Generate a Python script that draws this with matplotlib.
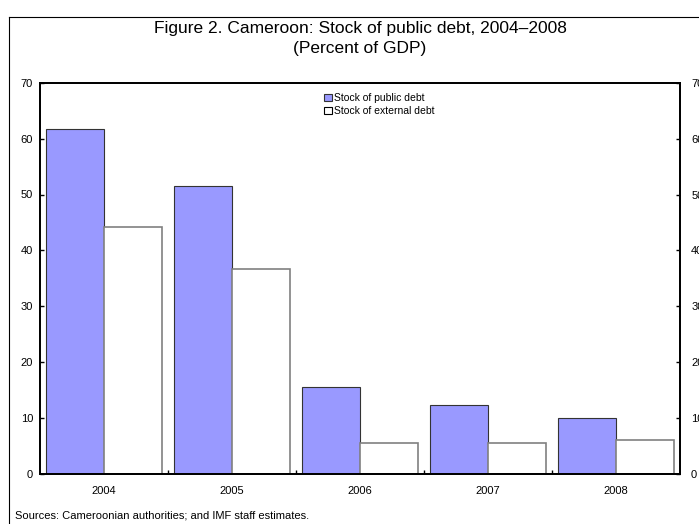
import matplotlib
matplotlib.use("Agg")
import matplotlib.pyplot as plt
from matplotlib.patches import Patch
from matplotlib.lines import Line2D
import numpy as np

plt.rcParams['font.family'] = ['Liberation Sans', 'DejaVu Sans']

years = ["2004", "2005", "2006", "2007", "2008"]
public_debt = [61.7, 51.5, 15.5, 12.4, 10.0]
external_debt = [44.2, 36.7, 5.5, 5.5, 6.0]
y_ticks = [0, 10, 20, 30, 40, 50, 60, 70]

W, H = 699, 524
fig = plt.figure(figsize=(W / 100, H / 100), dpi=100)
ax = fig.add_axes([40 / W, 1 - 474 / H, (680 - 40) / W, (474 - 82.7) / H])

x = np.arange(len(years))
bw = 0.453
ax.bar(x - bw / 2, public_debt, width=bw, color="#9999FF", edgecolor="#333333", linewidth=0.8)
ax.bar(x + bw / 2, external_debt, width=bw, color="white", edgecolor="#808080", linewidth=1.2)

ax.set_xlim(-0.5, len(years) - 0.5)
ax.set_ylim(0, 70)
ax.set_yticks(y_ticks)
ax.set_xticks(x)
ax.set_xticklabels(years)
ax.set_xticks(np.arange(0.5, len(years) - 0.5, 1), minor=True)
ax.tick_params(axis="x", which="major", length=0, pad=9, labelsize=8)
ax.tick_params(axis="x", which="minor", direction="in", length=3, width=1)
ax.tick_params(axis="y", direction="in", length=3, width=1, pad=5, labelsize=8)
for s in ax.spines.values():
    s.set_linewidth(1.3)

ax2 = ax.twinx()
ax2.set_ylim(0, 70)
ax2.set_yticks(y_ticks)
ax2.tick_params(axis="y", direction="in", length=3, width=1, pad=8, labelsize=8)
for s in ax2.spines.values():
    s.set_linewidth(1.3)

handles = [Patch(facecolor="#9999FF", edgecolor="#333333", linewidth=0.8),
           Patch(facecolor="white", edgecolor="black", linewidth=0.8)]
leg = ax.legend(handles, ["Stock of public debt", "Stock of external debt"],
                loc="upper center", bbox_to_anchor=(0.53, 0.99), frameon=False,
                fontsize=7.5, handlelength=0.7, handleheight=0.7, handletextpad=0.2,
                labelspacing=0.3, borderaxespad=0.2)

fig.text(360 / W, 1 - 28 / H, "Figure 2. Cameroon: Stock of public debt, 2004\u20132008",
         ha="center", va="center", fontsize=12.5)
fig.text(360 / W, 1 - 48 / H, "(Percent of GDP)", ha="center", va="center", fontsize=12.5)
fig.text(15 / W, 1 - 516 / H, "Sources: Cameroonian authorities; and IMF staff estimates.",
         ha="left", va="center", fontsize=8)

fig.add_artist(Line2D([8.5 / W, 8.5 / W], [0, 1 - 17 / H], color="black", linewidth=0.8))
fig.add_artist(Line2D([8.5 / W, 1], [1 - 17 / H, 1 - 17 / H], color="black", linewidth=0.8))

fig.savefig("out.png", dpi=100)
